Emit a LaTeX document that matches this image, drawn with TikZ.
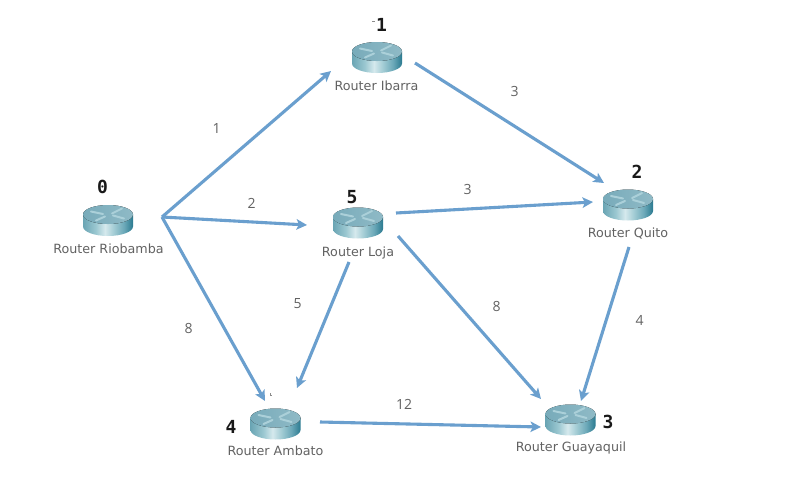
\documentclass[tikz,border=0pt]{standalone}
\usepackage{fontspec}
\setmainfont{DejaVu Sans}
\newfontfamily\numfont{DejaVu Sans Mono}
\newfontfamily\weightfont{Open Sans}
\usetikzlibrary{arrows.meta,calc}
\definecolor{linkblue}{HTML}{6A9FCE}
\definecolor{txtgray}{HTML}{626262}
\definecolor{rA}{HTML}{6AA5B4}
\definecolor{rB}{HTML}{9CC8D1}
\definecolor{rC}{HTML}{D5E9ED}
\definecolor{rD}{HTML}{6BA8B8}
\definecolor{rE}{HTML}{2A7A90}
\pgfdeclarehorizontalshading{routerbody}{100bp}{
  color(0bp)=(rA); color(25bp)=(rA); color(38bp)=(rB); color(47bp)=(rC);
  color(57bp)=(rB); color(66bp)=(rD); color(75bp)=(rE); color(100bp)=(rE)}
\definecolor{tA}{HTML}{78ABBA}
\definecolor{tB}{HTML}{8FBAC6}
\definecolor{tM}{HTML}{ABD0D9}
\tikzset{
  x=1pt,y=-1pt,
  routerbox/.style={inner sep=0pt,minimum width=50pt,minimum height=32pt},
  link/.style={draw=linkblue,line width=3.1pt,-{Stealth[length=10.5pt,width=10.5pt,inset=2.5pt]}},
  routertext/.style={text=txtgray,font=\fontsize{12.7}{14}\selectfont,inner sep=0pt},
  idtext/.style={text=black!90,font=\numfont\bfseries\fontsize{18}{19}\selectfont,inner sep=0pt},
  weight/.style={text=txtgray,font=\weightfont\fontsize{14}{16}\selectfont,inner sep=0pt},
  speck/.style={draw=black!45,line width=.4pt},
  mark/.style={},
  routermark/.style={draw=tM,line width=2pt,line cap=round},
  router/.pic={
    \shade[shading=routerbody] (-25,-6) -- (-25,6) arc[x radius=25,y radius=9.5,start angle=180,end angle=0] -- (25,-6) -- cycle;
    \fill[left color=tA,right color=tB] (0,-6) ellipse[x radius=25,y radius=9.5];
    \draw[routermark] (-17,-9) -- (-5,-6.5);
    \draw[routermark] (4,-7) -- (14,-12);
    \draw[routermark] (-12,0) -- (-3,-4);
    \draw[routermark] (5,-5) -- (16,-2);
  }
}
\begin{document}
\begin{tikzpicture}
\useasboundingbox[fill=white] (0,0) rectangle (800,490);
\node[routerbox] (rio) at (108,220.5) {};
\node[routerbox] (ibarra) at (377,57.5) {};
\node[routerbox] (loja) at (358,223) {};
\node[routerbox] (quito) at (628,205) {};
\node[routerbox] (ambato) at (275.5,424) {};
\node[routerbox] (guaya) at (570.5,420) {};
\foreach \r in {rio,ibarra,loja,quito,ambato,guaya} \pic at (\r) {router};
\coordinate (hub) at ([shift={(54,-3.5)}]rio.center);
\draw[link] (hub) -- ([shift={(-46,13.5)}]ibarra.center);
\draw[link] (hub) -- ([shift={(-51,2)}]loja.center);
\draw[link] (hub) -- ([shift={(-10.5,-23)}]ambato.center);
\draw[link] ([shift={(38,5.5)}]ibarra.center) -- ([shift={(-24,-22)}]quito.center);
\draw[link] ([shift={(38,-10)}]loja.center) -- ([shift={(-35,-3)}]quito.center);
\draw[link] ([shift={(40,13)}]loja.center) -- ([shift={(-29.5,-21)}]guaya.center);
\draw[link] ([shift={(-9,39)}]loja.center) -- ([shift={(21.5,-36)}]ambato.center);
\draw[link] ([shift={(1,42)}]quito.center) -- ([shift={(10.5,-19)}]guaya.center);
\draw[link] ([shift={(44.5,-2)}]ambato.center) -- ([shift={(-29.5,7)}]guaya.center);
\node[routertext] (trio) at (108.5,249) {Router Riobamba};
\node[routertext] (tibarra) at (376.5,86) {Router Ibarra};
\node[routertext] (tloja) at (358,253) {Router Loja};
\node[routertext] (tquito) at (628,233) {Router Quito};
\node[routertext] (tambato) at (275.5,451) {Router Ambato};
\node[routertext] (tguaya) at (571,448) {Router Guayaquil};
\node[idtext] (n0) at (102.5,187) {0};
\node[idtext] (n1) at (381.5,25) {1};
\node[idtext] (n2) at (637,172) {2};
\node[idtext] (n3) at (608,422) {3};
\node[idtext] (n4) at (231,427) {4};
\node[idtext] (n5) at (352,197) {5};
\node[weight] (w1) at (216.5,128) {1};
\node[weight] (w2) at (251.5,203) {2};
\node[weight] (w3) at (514.5,91) {3};
\node[weight] (w4) at (467.5,189) {3};
\node[weight] (w5) at (639.5,320) {4};
\node[weight] (w6) at (297.5,304) {5};
\node[weight] (w7) at (188.5,328) {8};
\node[weight] (w8) at (496.5,306) {8};
\node[weight] (w9) at (404,404) {12};
\draw[speck] (372,21.5) -- (375,21.5);
\draw[speck] (270.5,393) -- (270.5,395) -- (272,395);
\end{tikzpicture}
\end{document}
